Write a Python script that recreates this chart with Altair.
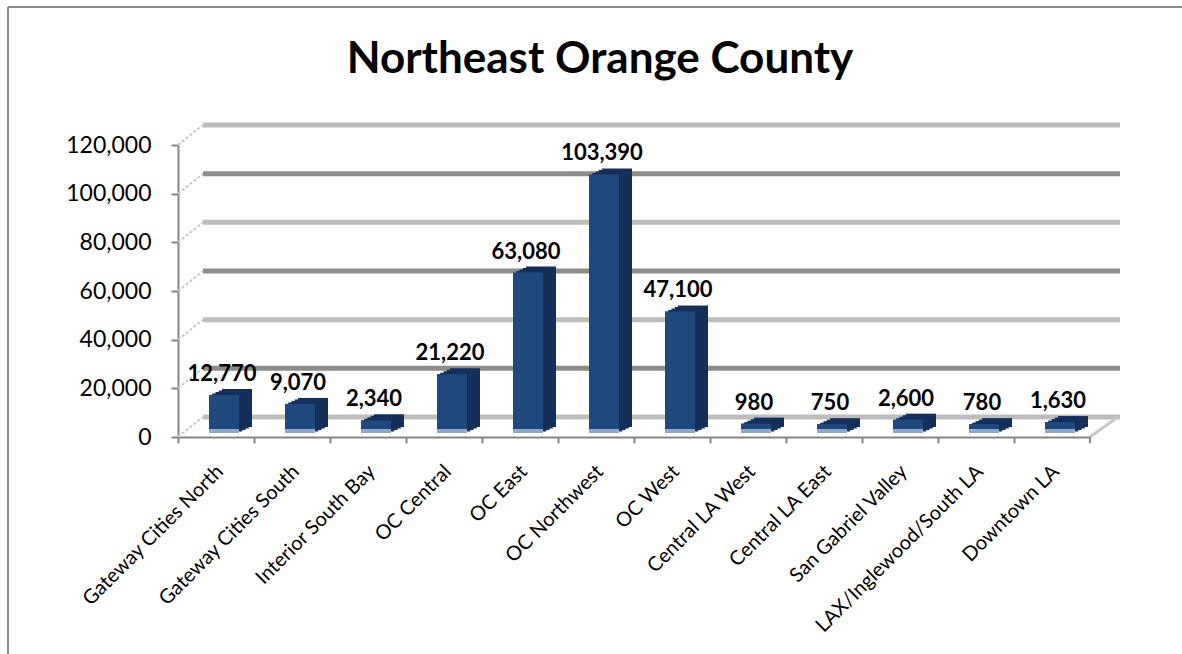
import altair as alt
import pandas as pd

# ---- data ----
categories = ["Gateway Cities North", "Gateway Cities South", "Interior South Bay",
              "OC Central", "OC East", "OC Northwest", "OC West", "Central LA West",
              "Central LA East", "San Gabriel Valley", "LAX/Inglewood/South LA", "Downtown LA"]
values = [12770, 9070, 2340, 21220, 63080, 103390, 47100, 980, 750, 2600, 780, 1630]
y_ticks = [0, 20000, 40000, 60000, 80000, 100000, 120000]
title_text = "Northeast Orange County"

df = pd.DataFrame({"cat": categories, "v": values})
grid_df = pd.DataFrame({"g": y_ticks})
title_df = pd.DataFrame({"t": [title_text]})

FONT = "Lato"
FRONT = "#1F487C"
SIDE = "#14305A"
LIGHT = "#8FA7CB"
AXC = "#868686"

W, H = 912, 292
yscale = alt.Scale(domain=[0, 120000], nice=False, zero=True)
xscale = alt.Scale(domain=categories, paddingInner=0, paddingOuter=0)

X = alt.X("cat:N", sort=categories, scale=xscale, title=None,
          axis=alt.Axis(labelAngle=-45, bandPosition=0, labelOffset=-3))
Yax = alt.Y("v:Q", scale=yscale, title=None,
            axis=alt.Axis(values=y_ticks, grid=False))
Xn = alt.X("cat:N", sort=categories, scale=xscale, title=None)
Yn = alt.Y("v:Q", scale=yscale, title=None)
Gn = alt.Y("g:Q", scale=yscale, title=None)

# back-wall gridlines
grid_light = alt.Chart(grid_df).transform_filter("datum.g % 40000 == 0").mark_rule(
    strokeWidth=5, yOffset=-20, color="#bdbdbd").encode(
    y=Gn, x=alt.value(25), x2=alt.value(942))
grid_dark = alt.Chart(grid_df).transform_filter("datum.g % 40000 != 0").mark_rule(
    strokeWidth=5, yOffset=-20, color="#8c8c8c").encode(
    y=Gn, x=alt.value(25), x2=alt.value(942))
# side-wall diagonal stubs
stubs = alt.Chart(grid_df).mark_rule(strokeWidth=2, color="#c8c8c8", y2Offset=-20,
                                     strokeDash=[3, 2]).encode(
    y=Gn, y2="g:Q", x=alt.value(0), x2=alt.value(25))
floor_edge = alt.Chart(grid_df).transform_filter("datum.g == 0").mark_rule(
    strokeWidth=3, color="#c8c8c8", y2Offset=-20).encode(
    y=Gn, y2="g:Q", x=alt.value(912), x2=alt.value(940))

# bar extrusion (side + top)
extr = []
for k in range(4, 0, -1):
    f = k / 4.0
    extr.append(alt.Chart(df).transform_calculate(z="0").mark_bar(
        size=30, color=SIDE, xOffset=8 + 13 * f,
        yOffset=-11 - 6 * f, y2Offset=-4 - 6 * f).encode(x=Xn, y=Yn, y2="z:Q"))

front = alt.Chart(df).transform_calculate(z="0").mark_bar(
    size=30, color=FRONT, xOffset=8, yOffset=-11, y2Offset=-4).encode(
    x=X, y=Yax, y2="z:Q")
strip = alt.Chart(df).transform_calculate(z="0").mark_bar(
    size=30, color=LIGHT, xOffset=8, yOffset=-8, y2Offset=-4).encode(
    x=Xn, y=alt.Y("z:Q", scale=yscale, title=None), y2="z:Q")

labels = alt.Chart(df).mark_text(font=FONT, fontSize=22, fontWeight="bold", color="#000000",
                                 baseline="alphabetic", xOffset=6, dy=-25).encode(
    x=Xn, y=Yn, text=alt.Text("v:Q", format=","))

title = alt.Chart(title_df).mark_text(font=FONT, fontSize=44, fontWeight="bold",
                                      color="#000000", align="center",
                                      baseline="alphabetic").encode(
    x=alt.value(422), y=alt.value(-72), text="t:N")

one = grid_df.head(1)
border_l = alt.Chart(one).mark_rule(strokeWidth=2, color="#8c8c8c").encode(
    x=alt.value(-170), y=alt.value(-138), y2=alt.value(520))
border_t = alt.Chart(one).mark_rule(strokeWidth=2, color="#8c8c8c").encode(
    x=alt.value(-170), x2=alt.value(1010), y=alt.value(-138))
end_tick = alt.Chart(one).mark_rule(strokeWidth=2, color=AXC).encode(
    x=alt.value(W), y=alt.value(H), y2=alt.value(H + 6))

chart = alt.layer(front, grid_light, grid_dark, stubs, floor_edge, *extr, front, strip, labels,
                  title, border_l, border_t, end_tick).properties(
    width=W, height=H,
    autosize=alt.AutoSizeParams(type="none"),
    padding={"left": 178, "top": 145, "right": 92, "bottom": 217},
    background="white",
).configure_view(stroke=None).configure_axisY(
    labelExpr="format(datum.value, ',')", grid=False, tickSize=7,
    tickColor=AXC, tickWidth=2, domainColor=AXC, domainWidth=2,
    labelFont=FONT, labelFontSize=23, labelColor="#000000", labelPadding=20,
).configure_axisX(
    labelPadding=18, tickSize=6, tickColor=AXC, tickWidth=2,
    domainColor=AXC, domainWidth=2, labelFont=FONT,
    labelFontSize=20, labelColor="#000000", labelLimit=400,
)

chart.save("out.html", embed_options={"renderer": "svg", "actions": False})
